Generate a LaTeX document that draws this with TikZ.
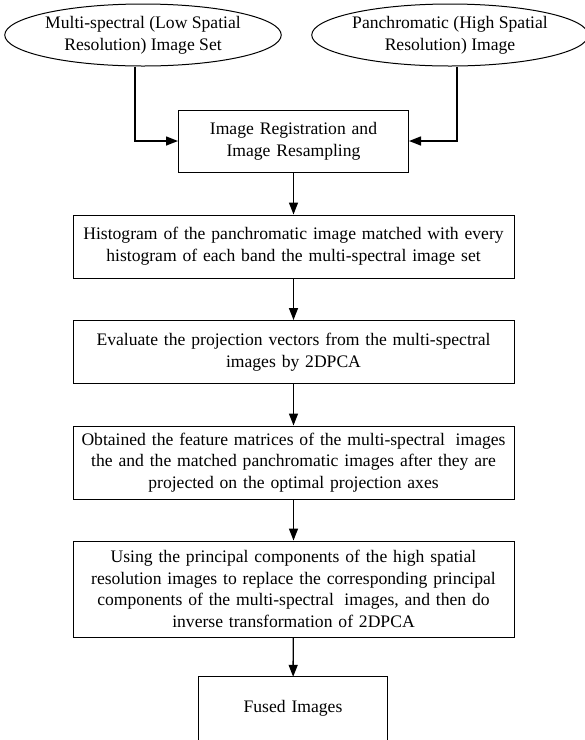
\documentclass[tikz,border=0pt]{standalone}
\usepackage{fontspec}
\setmainfont{Liberation Serif}
\usetikzlibrary{arrows.meta, shapes.geometric}
\tikzset{
  flow/.style={-{Triangle[length=12pt, width=9pt]}, line width=1.4pt, color=black},
  stage/.style={draw, line width=1pt, rectangle, align=center, text width=441pt, inner sep=0pt, minimum height=#1},
  stage/.default=63pt,
  source/.style={draw, line width=1pt, ellipse, align=center, minimum width=272pt, minimum height=62pt, inner sep=0pt},
  every node/.append style={font=\fontsize{17.6}{21.7}\selectfont}
}

\begin{document}
\begin{tikzpicture}[x=1pt, y=-1pt]
\clip (0,0) rectangle (585,740);
% inputs
\node[source] (ms) at (143,35) {Multi-spectral (Low Spatial\\Resolution) Image Set};
\node[source, minimum width=270pt] (pan) at (450,35) {Panchromatic (High Spatial\\Resolution) Image};
\node[stage=62pt, text width=230pt] (reg) at (293.5,141) {Image Registration and\\Image Resampling};
% processing chain
\node[stage] (hist) at (293.5,246.5) {Histogram of the panchromatic image matched with every\\histogram of each band the multi-spectral image set};
\node[stage=63pt] (proj) at (293.5,352) {Evaluate the projection vectors from the multi-spectral\\images by 2DPCA};
\node[stage=73pt] (feat) at (293.5,462.5) {Obtained the feature matrices of the multi-spectral\hspace{0.6em}images\\the and the matched panchromatic images after they are\\projected on the optimal projection axes};
\node[stage=96pt] (pca) at (293.5,589) {Using the principal components of the high spatial\\resolution images to replace the corresponding principal\\components of the multi-spectral\hspace{0.6em}images, and then do\\inverse transformation of 2DPCA};
\node[align=center, text width=189pt, minimum height=62pt, inner sep=0pt] (fused) at (293,708) {Fused Images};
\draw[line width=1pt] ([yshift=-20pt]fused.south west) -- (fused.north west) -- (fused.north east) -- ([yshift=-20pt]fused.south east);
% connectors
\draw[flow] ([xshift=-8pt]ms.south) |- (reg);
\draw[flow] ([xshift=7pt]pan.south) |- (reg);
\draw[flow] (reg) -- (hist);
\draw[flow] (hist) -- (proj);
\draw[flow] (proj) -- (feat);
\draw[flow] (feat) -- (pca);
\draw[flow] (pca) -- (fused);
\end{tikzpicture}
\end{document}
